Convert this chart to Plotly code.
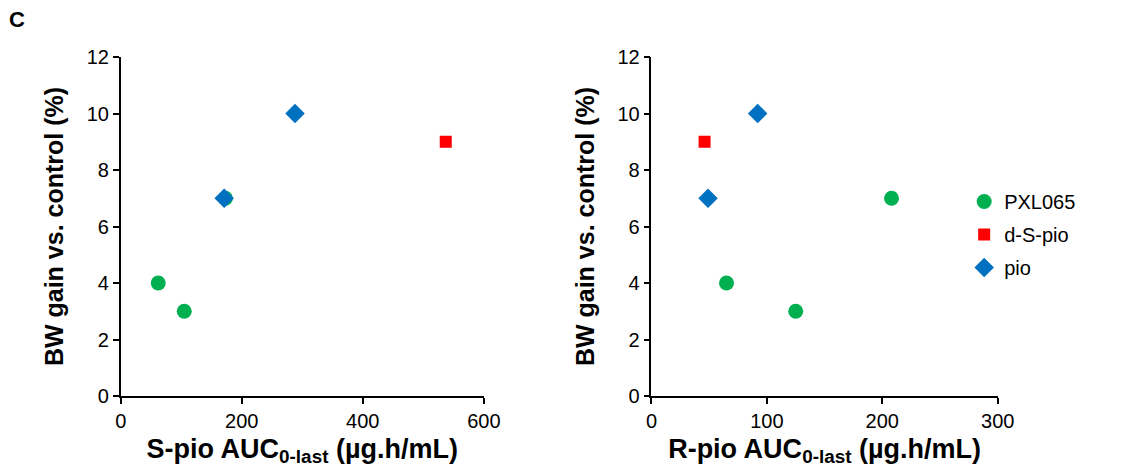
import plotly.graph_objects as go
from plotly.subplots import make_subplots

# Data
y_bw_pxl = [4, 3, 7]
s_auc_pxl = [62, 105, 173]
r_auc_pxl = [65, 125, 208]

y_bw_dsp = [9]
s_auc_dsp = [537]
r_auc_dsp = [46]

y_bw_pio = [7, 10]
s_auc_pio = [171, 288]
r_auc_pio = [49, 92]

series = [
    ("PXL065", s_auc_pxl, r_auc_pxl, y_bw_pxl, "#00B050", "circle", 15),
    ("d-S-pio", s_auc_dsp, r_auc_dsp, y_bw_dsp, "#FF0000", "square", 12),
    ("pio", s_auc_pio, r_auc_pio, y_bw_pio, "#0070C0", "diamond", 15),
]

FONT = "Arial, Liberation Sans, sans-serif"
OFF = 8          # page body margin
W, H = 1125, 460  # figure size that fits the window without scrollbars
TOP, BOT = 57, 396  # page y of plot top / bottom

fig = make_subplots(rows=1, cols=2)
for name, sx, rx, yy, col, sym, sz in series:
    fig.add_trace(go.Scatter(x=sx, y=yy, mode="markers", name=name, legendgroup=name,
                             showlegend=False,
                             marker=dict(color=col, symbol=sym, size=sz, line=dict(width=0))),
                  row=1, col=1)
    fig.add_trace(go.Scatter(x=rx, y=yy, mode="markers", name=name, legendgroup=name,
                             showlegend=True,
                             marker=dict(color=col, symbol=sym, size=sz, line=dict(width=0))),
                  row=1, col=2)

axis_common = dict(showline=True, linecolor="black", linewidth=1.5, ticks="outside",
                   ticklen=6, tickcolor="black", tickwidth=1.5, showgrid=False, zeroline=False,
                   tickfont=dict(family=FONT, size=20, color="black"))

fig.update_xaxes(**axis_common)
fig.update_yaxes(**axis_common)

def fx(px):
    e = (px - 4.2) / 0.9818
    return (e - OFF) / W

plot_h = BOT - TOP
def fy(py):
    return (BOT - py) / plot_h

fig.update_layout(
    xaxis=dict(domain=[fx(119), fx(483)], range=[0, 600], dtick=200,
               title=dict(text="<b>S-pio AUC<sub>0-last</sub> (µg.h/mL)</b>",
                          font=dict(family=FONT, size=27, color="black"), standoff=8)),
    xaxis2=dict(domain=[fx(651), fx(998)], range=[0, 300], dtick=100,
                title=dict(text="<b>R-pio AUC<sub>0-last</sub> (µg.h/mL)</b>",
                           font=dict(family=FONT, size=27, color="black"), standoff=8)),
    yaxis=dict(range=[0, 12], dtick=2,
               title=dict(text="<b>BW gain vs. control (%)</b>",
                          font=dict(family=FONT, size=25, color="black"), standoff=16)),
    yaxis2=dict(range=[0, 12], dtick=2,
                title=dict(text="<b>BW gain vs. control (%)</b>",
                           font=dict(family=FONT, size=25, color="black"), standoff=16)),
    width=W, height=H,
    margin=dict(l=0, r=0, t=TOP - OFF, b=H - (BOT - OFF)),
    plot_bgcolor="white", paper_bgcolor="white",
    showlegend=True,
    legend=dict(x=(978 - OFF) / W, y=fy(182), xanchor="left", yanchor="top",
                font=dict(family=FONT, size=20, color="black"),
                traceorder="grouped", tracegroupgap=4, itemwidth=30,
                bgcolor="rgba(0,0,0,0)"),
    annotations=[dict(text="<b>C</b>", x=-7 / W, y=fy(20), xref="paper", yref="paper",
                      xanchor="left", yanchor="middle", showarrow=False,
                      font=dict(family=FONT, size=22, color="black"))],
)

fig.write_html("out.html")
